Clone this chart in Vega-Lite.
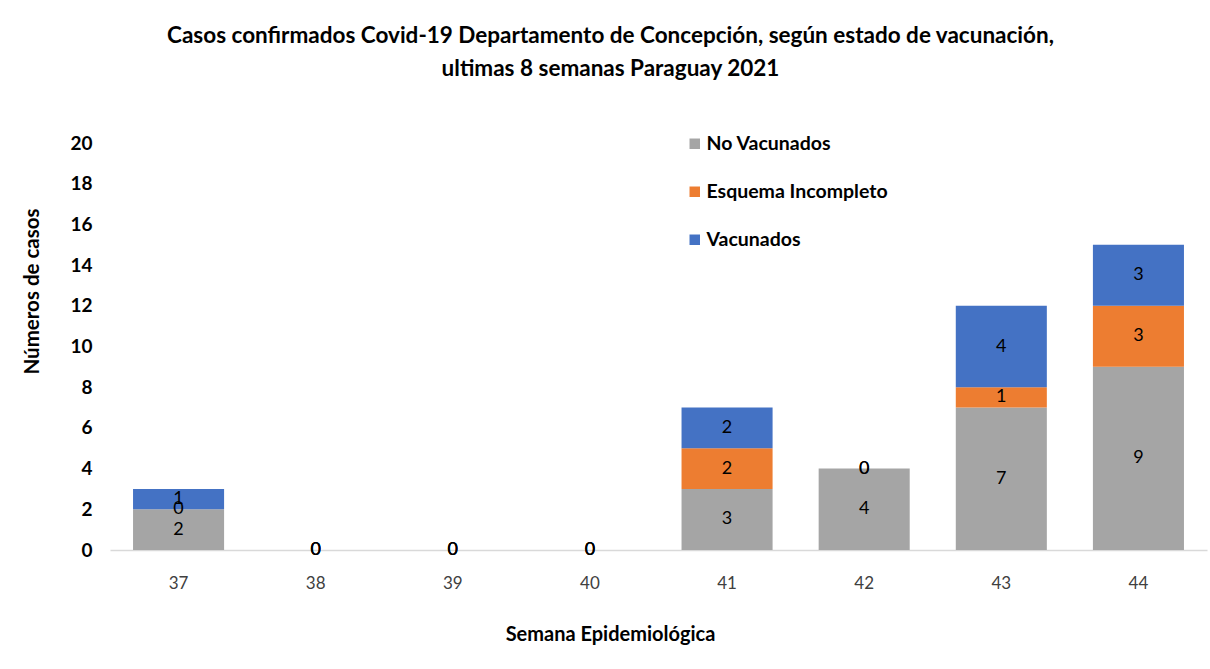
{
  "$schema": "https://vega.github.io/schema/vega-lite/v6.json",
  "width": 1097,
  "height": 407,
  "autosize": {"type": "none"},
  "padding": {"left": 110, "top": 143, "right": 3, "bottom": 119},
  "background": "white",
  "config": {"view": {"stroke": null}},
  "title": {
    "text": ["Casos confirmados Covid-19 Departamento de Concepción, según estado de vacunación,", "ultimas 8 semanas Paraguay 2021"],
    "font": "Lato, sans-serif",
    "fontSize": 22.5,
    "fontWeight": "bold",
    "color": "#000000",
    "anchor": "middle",
    "dx": -48,
    "offset": 54,
    "lineHeight": 33
  },
  "data": {
    "values": [
      {"semana": "37", "estado": "No Vacunados", "orden": 1, "casos": 2},
      {"semana": "37", "estado": "Esquema Incompleto", "orden": 2, "casos": 0},
      {"semana": "37", "estado": "Vacunados", "orden": 3, "casos": 1},
      {"semana": "38", "estado": "No Vacunados", "orden": 1, "casos": 0},
      {"semana": "38", "estado": "Esquema Incompleto", "orden": 2, "casos": 0},
      {"semana": "38", "estado": "Vacunados", "orden": 3, "casos": 0},
      {"semana": "39", "estado": "No Vacunados", "orden": 1, "casos": 0},
      {"semana": "39", "estado": "Esquema Incompleto", "orden": 2, "casos": 0},
      {"semana": "39", "estado": "Vacunados", "orden": 3, "casos": 0},
      {"semana": "40", "estado": "No Vacunados", "orden": 1, "casos": 0},
      {"semana": "40", "estado": "Esquema Incompleto", "orden": 2, "casos": 0},
      {"semana": "40", "estado": "Vacunados", "orden": 3, "casos": 0},
      {"semana": "41", "estado": "No Vacunados", "orden": 1, "casos": 3},
      {"semana": "41", "estado": "Esquema Incompleto", "orden": 2, "casos": 2},
      {"semana": "41", "estado": "Vacunados", "orden": 3, "casos": 2},
      {"semana": "42", "estado": "No Vacunados", "orden": 1, "casos": 4},
      {"semana": "42", "estado": "Esquema Incompleto", "orden": 2, "casos": 0},
      {"semana": "42", "estado": "Vacunados", "orden": 3, "casos": 0},
      {"semana": "43", "estado": "No Vacunados", "orden": 1, "casos": 7},
      {"semana": "43", "estado": "Esquema Incompleto", "orden": 2, "casos": 1},
      {"semana": "43", "estado": "Vacunados", "orden": 3, "casos": 4},
      {"semana": "44", "estado": "No Vacunados", "orden": 1, "casos": 9},
      {"semana": "44", "estado": "Esquema Incompleto", "orden": 2, "casos": 3},
      {"semana": "44", "estado": "Vacunados", "orden": 3, "casos": 3}
    ]
  },
  "transform": [
    {"stack": "casos", "groupby": ["semana"], "sort": [{"field": "orden"}], "as": ["y0", "y1"]},
    {"calculate": "(datum.y0 + datum.y1) / 2", "as": "ymid"}
  ],
  "encoding": {
    "x": {
      "field": "semana",
      "type": "ordinal",
      "scale": {"paddingInner": 0.336, "paddingOuter": 0.168},
      "axis": {
        "title": "Semana Epidemiológica",
        "labelAngle": 0,
        "labelFont": "Lato, sans-serif",
        "labelFontSize": 17,
        "labelColor": "#404040",
        "labelPadding": 25,
        "ticks": false,
        "domainColor": "#D9D9D9",
        "domainWidth": 1.5,
        "titleFont": "Lato, sans-serif",
        "titleFontSize": 20,
        "titleFontWeight": "bold",
        "titleColor": "#000000",
        "titlePadding": 33,
        "titleX": 500,
        "titleAlign": "center"
      }
    }
  },
  "layer": [
    {
      "mark": {"type": "bar"},
      "encoding": {
        "y": {
          "field": "y0",
          "type": "quantitative",
          "scale": {"domain": [0, 20]},
          "axis": {
            "title": "Números de casos",
            "values": [0, 2, 4, 6, 8, 10, 12, 14, 16, 18, 20],
            "grid": false,
            "domain": false,
            "ticks": false,
            "labelFont": "Lato, sans-serif",
            "labelFontSize": 19,
            "labelFontWeight": "bold",
            "labelColor": "#000000",
            "labelPadding": 18,
            "titleFont": "Lato, sans-serif",
            "titleFontSize": 20.5,
            "titleFontWeight": "bold",
            "titleColor": "#000000",
            "titlePadding": 27,
            "titleY": 148,
            "titleAlign": "center"
          }
        },
        "y2": {"field": "y1"},
        "color": {
          "field": "estado",
          "type": "nominal",
          "scale": {
            "domain": ["No Vacunados", "Esquema Incompleto", "Vacunados"],
            "range": ["#A5A5A5", "#ED7D31", "#4472C4"]
          },
          "legend": {
            "title": null,
            "orient": "none",
            "legendX": 575,
            "legendY": -9,
            "padding": 0,
            "symbolType": "square",
            "symbolSize": 110,
            "symbolStrokeWidth": 0,
            "labelFont": "Lato, sans-serif",
            "labelFontSize": 19.5,
            "labelFontWeight": "bold",
            "labelColor": "#000000",
            "labelOffset": 2,
            "labelLimit": 0,
            "rowPadding": 27
          }
        }
      }
    },
    {
      "mark": {
        "type": "text",
        "font": "Lato, sans-serif",
        "fontSize": 18,
        "color": "#000000",
        "baseline": "middle",
        "align": "center"
      },
      "encoding": {
        "y": {"field": "ymid", "type": "quantitative"},
        "text": {"field": "casos", "type": "quantitative"}
      }
    }
  ]
}
